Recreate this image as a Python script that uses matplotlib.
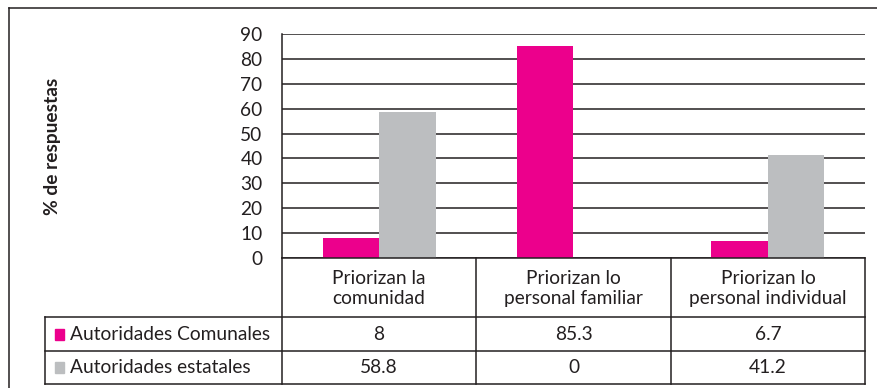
import matplotlib
matplotlib.use('Agg')
import matplotlib.pyplot as plt
from matplotlib.lines import Line2D
from matplotlib.patches import Rectangle
import numpy as np

# data
categories = ['Priorizan la\ncomunidad', 'Priorizan lo\npersonal familiar', 'Priorizan lo\npersonal individual']
series_names = ['Autoridades Comunales', 'Autoridades estatales']
comunales = [8, 85.3, 6.7]
estatales = [58.8, 0, 41.2]
value_labels = [['8', '85.3', '6.7'], ['58.8', '0', '41.2']]
yticks = [0, 10, 20, 30, 40, 50, 60, 70, 80, 90]

colors = ['#EC008C', '#BCBEC0']
line_color = '#231F20'
font = 'Lato'
fs = 13.8

W, H = 878, 388
fig = plt.figure(figsize=(W / 100, H / 100), dpi=100)


def fx(px):
    return px / W


def fy(py):
    return 1 - py / H


# plot area in pixel coords
left, right, top, bottom = 282, 865, 34, 258
ax = fig.add_axes([fx(left), fy(bottom), fx(right - left), (bottom - top) / H])

x = np.arange(len(categories))
width = 0.29
ax.bar(x - width / 2, comunales, width, color=colors[0], zorder=3)
ax.bar(x + width / 2, estatales, width, color=colors[1], zorder=3)

ax.set_xlim(-0.5, 2.5)
ax.set_ylim(0, 90)
ax.set_yticks(yticks)
ax.set_yticklabels([str(t) for t in yticks], fontfamily=font, fontsize=fs, color='#231F20')
ax.tick_params(axis='y', length=0, pad=14)
ax.set_xticks([])
ax.yaxis.grid(True, color=line_color, lw=1.1)
ax.set_axisbelow(True)
for s in ['top', 'right', 'bottom']:
    ax.spines[s].set_visible(False)
ax.spines['left'].set_color(line_color)
ax.spines['left'].set_linewidth(1.1)

ax.set_ylabel('% de respuestas', fontfamily=font, fontsize=fs, fontweight='bold', color='#231F20')
ax.yaxis.set_label_coords((61 - left) / (right - left), 0.5)


def hline(y, x0, x1):
    fig.add_artist(Line2D([fx(x0), fx(x1)], [fy(y), fy(y)], color=line_color, lw=1.1))


def vline(xp, y0, y1):
    fig.add_artist(Line2D([fx(xp), fx(xp)], [fy(y0), fy(y1)], color=line_color, lw=1.1))


# outer frame (cropped at right and bottom)
hline(8, 9, 878)
vline(9, 8, 388)

# data table
cols = [282, 476, 671, 865]
row_lines = [258, 317, 351, 384]
table_left = 45
hline(row_lines[0], cols[0], cols[-1])
for r in row_lines[1:]:
    hline(r, table_left, cols[-1])
for c in cols:
    vline(c, row_lines[0], row_lines[-1])
vline(table_left, row_lines[1], row_lines[-1])

for i, cat in enumerate(categories):
    cx = (cols[i] + cols[i + 1]) / 2
    fig.text(fx(cx), fy((row_lines[0] + row_lines[1]) / 2 + 1), cat, ha='center', va='center',
             fontfamily=font, fontsize=fs, color='#231F20', linespacing=1.2)

for r, name in enumerate(series_names):
    cy = (row_lines[r + 1] + row_lines[r + 2]) / 2
    fig.add_artist(Rectangle((fx(55), fy(cy + 5.5)), fx(9), 11 / H, color=colors[r]))
    fig.text(fx(70), fy(cy), name, ha='left', va='center',
             fontfamily=font, fontsize=fs, color='#231F20')
    for i, lab in enumerate(value_labels[r]):
        cx = (cols[i] + cols[i + 1]) / 2
        fig.text(fx(cx), fy(cy), lab, ha='center', va='center',
                 fontfamily=font, fontsize=fs, color='#231F20')

fig.savefig('out.png', dpi=100)
plt.close(fig)
